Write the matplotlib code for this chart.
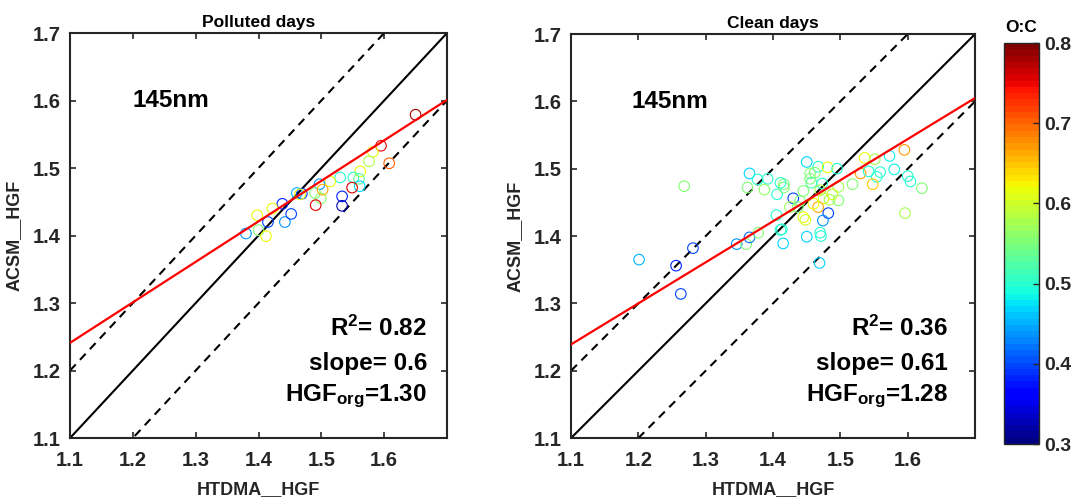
import matplotlib
matplotlib.use("Agg")
import matplotlib.pyplot as plt
import numpy as np

plt.rcParams["font.family"] = ["Liberation Sans", "DejaVu Sans"]
plt.rcParams["font.weight"] = "bold"
plt.rcParams["mathtext.fontset"] = "custom"
plt.rcParams["mathtext.rm"] = "Liberation Sans:bold"
plt.rcParams["mathtext.it"] = "Liberation Sans:bold"
plt.rcParams["mathtext.bf"] = "Liberation Sans:bold"

# polluted days: HTDMA HGF, ACSM HGF, O:C
polluted_x = [1.650, 1.595, 1.608, 1.582, 1.576, 1.562, 1.551, 1.560, 1.561, 1.549,
              1.533, 1.533, 1.530, 1.514, 1.497, 1.490, 1.499, 1.491, 1.461, 1.469,
              1.466, 1.438, 1.422, 1.398, 1.415, 1.442, 1.452, 1.380, 1.400, 1.412,
              1.502]
polluted_y = [1.579, 1.533, 1.507, 1.524, 1.510, 1.495, 1.486, 1.484, 1.473, 1.471,
              1.458, 1.444, 1.486, 1.480, 1.476, 1.463, 1.455, 1.445, 1.463, 1.462,
              1.461, 1.447, 1.440, 1.430, 1.420, 1.420, 1.432, 1.403, 1.408, 1.399,
              1.468]
polluted_oc = [0.78, 0.75, 0.70, 0.62, 0.58, 0.62, 0.50, 0.53, 0.47, 0.76,
               0.38, 0.33, 0.50, 0.62, 0.44, 0.55, 0.56, 0.76, 0.45, 0.40,
               0.62, 0.38, 0.62, 0.62, 0.40, 0.44, 0.40, 0.44, 0.55, 0.62,
               0.66]

# clean days
clean_x = [1.268, 1.365, 1.377, 1.392, 1.362, 1.387, 1.406, 1.405, 1.281, 1.256,
           1.346, 1.360, 1.365, 1.378, 1.411, 1.201, 1.263, 1.450, 1.467, 1.481,
           1.495, 1.536, 1.551, 1.530, 1.542, 1.554, 1.548, 1.559, 1.455, 1.462,
           1.457, 1.473, 1.416, 1.416, 1.445, 1.430, 1.425, 1.437, 1.497, 1.518,
           1.475, 1.484, 1.497, 1.467, 1.482, 1.474, 1.445, 1.448, 1.413, 1.450,
           1.470, 1.471, 1.415, 1.469, 1.595, 1.573, 1.580, 1.600, 1.604, 1.621,
           1.596, 1.455, 1.470, 1.488, 1.440, 1.460, 1.411]
clean_y = [1.474, 1.493, 1.484, 1.485, 1.472, 1.469, 1.462, 1.431, 1.382, 1.356,
           1.388, 1.388, 1.398, 1.405, 1.409, 1.365, 1.314, 1.510, 1.503, 1.502,
           1.500, 1.516, 1.514, 1.493, 1.496, 1.488, 1.477, 1.495, 1.493, 1.494,
           1.479, 1.478, 1.477, 1.472, 1.467, 1.456, 1.443, 1.443, 1.473, 1.477,
           1.456, 1.454, 1.453, 1.443, 1.434, 1.423, 1.428, 1.424, 1.410, 1.399,
           1.405, 1.400, 1.389, 1.360, 1.528, 1.519, 1.499, 1.489, 1.481, 1.471,
           1.434, 1.485, 1.468, 1.462, 1.452, 1.448, 1.479]
clean_oc = [0.55, 0.47, 0.50, 0.50, 0.55, 0.56, 0.50, 0.50, 0.40, 0.38,
            0.44, 0.55, 0.42, 0.55, 0.50, 0.45, 0.40, 0.47, 0.50, 0.62,
            0.50, 0.62, 0.58, 0.67, 0.50, 0.50, 0.65, 0.50, 0.55, 0.55,
            0.52, 0.50, 0.55, 0.55, 0.55, 0.40, 0.57, 0.55, 0.58, 0.55,
            0.60, 0.58, 0.55, 0.66, 0.40, 0.44, 0.62, 0.60, 0.50, 0.47,
            0.50, 0.50, 0.47, 0.47, 0.67, 0.48, 0.48, 0.50, 0.50, 0.55,
            0.58, 0.55, 0.58, 0.60, 0.55, 0.62, 0.50]

# fitted lines (slope, intercept) and stats text
fits = [(0.60, 0.581), (0.61, 0.568)]
titles = ["Polluted days", "Clean days"]
r2_txt = ["0.82", "0.36"]
slope_txt = ["0.6", "0.61"]
hgf_txt = ["1.30", "1.28"]

ticks = [1.1, 1.2, 1.3, 1.4, 1.5, 1.6]
yticks = [1.1, 1.2, 1.3, 1.4, 1.5, 1.6, 1.7]
cmap = plt.get_cmap("jet", 64)
dark = "#262626"

fig = plt.figure(figsize=(10.74, 4.99), dpi=100)
ax1 = fig.add_axes([0.0652, 0.1222, 0.351, 0.8116])
ax2 = fig.add_axes([0.5317, 0.1222, 0.3762, 0.8096])
cax = fig.add_axes([0.9348, 0.1102, 0.0326, 0.8036])

data = [(polluted_x, polluted_y, polluted_oc), (clean_x, clean_y, clean_oc)]
txt_x = [1.668, 1.660]
nm_x = [1.20, 1.19]

for i, ax in enumerate([ax1, ax2]):
    xs, ys, oc = data[i]
    line_x = np.array([1.1, 1.7])
    ax.plot(line_x, line_x, color="black", lw=1.5, zorder=2)
    ax.plot(line_x, line_x + 0.1, color="black", lw=1.5, ls=(0, (4, 3)), zorder=2)
    ax.plot(line_x, line_x - 0.1, color="black", lw=1.5, ls=(0, (4, 3)), zorder=2)
    sc = ax.scatter(xs, ys, c=oc, cmap=cmap, vmin=0.3, vmax=0.8, s=58,
                    linewidths=0.8, zorder=3)
    sc.set_facecolor("none")
    sc.set_edgecolors(cmap((np.array(oc) - 0.3) / 0.5))
    k, b = fits[i]
    ax.plot(line_x, k * line_x + b, color="red", lw=1.6, zorder=4)

    ax.set_xlim(1.1, 1.7)
    ax.set_ylim(1.1, 1.7)
    ax.set_xticks(ticks)
    ax.set_yticks(yticks)
    ax.set_xticklabels([f"{t:.1f}" for t in ticks])
    ax.set_yticklabels([f"{t:.1f}" for t in yticks])
    ax.tick_params(direction="in", top=True, right=True, length=4, width=1.2,
                   labelsize=14.5, colors=dark)
    ax.tick_params(axis="x", pad=9)
    ax.tick_params(axis="y", pad=7)
    for sp in ax.spines.values():
        sp.set_linewidth(1.5)
        sp.set_color(dark)
    ax.set_xlabel("HTDMA__HGF", fontsize=13, fontweight="bold", color=dark, labelpad=8)
    ax.set_ylabel("ACSM__HGF", fontsize=13, fontweight="bold", color=dark, labelpad=7)
    ax.set_title(titles[i], fontsize=12.5, fontweight="bold", pad=4)

    ax.text(nm_x[i], 1.6, "145nm", fontsize=17.5, fontweight="bold", va="center")
    ax.text(txt_x[i], 1.263, "R$^{2}$= " + r2_txt[i], fontsize=17.5, ha="right", va="center")
    ax.text(txt_x[i], 1.211, "slope= " + slope_txt[i], fontsize=17.5, fontweight="bold",
            ha="right", va="center")
    ax.text(txt_x[i], 1.162, "HGF$_{org}$=" + hgf_txt[i], fontsize=17.5, ha="right", va="center")

cb = fig.colorbar(sc, cax=cax)
cb.set_ticks([0.3, 0.4, 0.5, 0.6, 0.7, 0.8])
cb.ax.tick_params(direction="in", length=4, width=1, labelsize=14, colors=dark, pad=4)
cb.outline.set_edgecolor(dark)
cb.outline.set_linewidth(1)
cax.set_title("O:C", fontsize=12.5, fontweight="bold", pad=8)

fig.savefig("out.png", dpi=100)
